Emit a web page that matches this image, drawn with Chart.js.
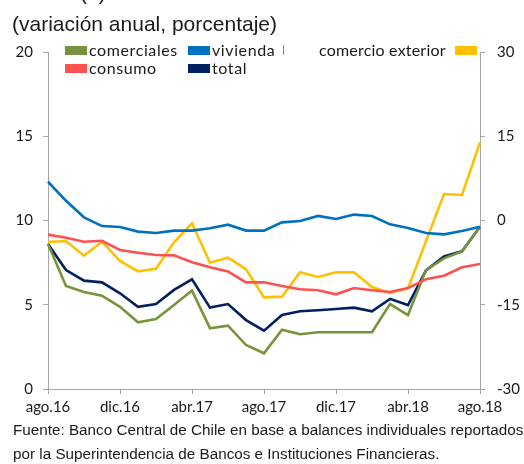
<!DOCTYPE html>
<html>
<head>
<meta charset="utf-8">
<script src="https://cdn.jsdelivr.net/npm/chart.js@4.4.0/dist/chart.umd.min.js"></script>
<style>
  body { margin: 0; background: #fff; }
  #wrap { position: relative; width: 524px; height: 464px; overflow: hidden; }
  #chart { position: absolute; left: 0; top: 0; }
  .txt { position: absolute; white-space: nowrap; color: #1a1a1a; }
  .arial { font-family: "Liberation Sans", Arial, sans-serif; }
  .leg { font-family: Lato, sans-serif; font-size: 16px; line-height: 18px; letter-spacing: 0.6px; }
  .box { position: absolute; width: 22px; height: 9px; }
</style>
</head>
<body>
<div id="wrap">
  <canvas id="chart" width="524" height="464"></canvas>
  <div class="txt arial" style="left:80px; top:-19px; font-size:21px;">(b)</div>
  <div class="txt arial" style="left:12px; top:12px; font-size:21px;">(variación anual, porcentaje)</div>

  <div id="legend"></div>

  <div class="txt arial" style="left:13px; top:421px; font-size:15.25px;">Fuente: Banco Central de Chile en base a balances individuales reportados</div>
  <div class="txt arial" style="left:13px; top:445px; font-size:15.25px;">por la Superintendencia de Bancos e Instituciones Financieras.</div>
</div>
<script>
// Months, ago.16 .. ago.18
const months = ["ago.16","sep.16","oct.16","nov.16","dic.16","ene.17","feb.17","mar.17","abr.17","may.17","jun.17","jul.17",
  "ago.17","sep.17","oct.17","nov.17","dic.17","ene.18","feb.18","mar.18","abr.18","may.18","jun.18","jul.18","ago.18"];

// left axis series (%)
const comerciales = [8.61, 6.11, 5.76, 5.54, 4.88, 3.96, 4.15, 4.99, 5.84, 3.60, 3.76, 2.61, 2.12, 3.52, 3.25, 3.37, 3.37, 3.37, 3.37, 5.04, 4.39, 7.06, 7.75, 8.17, 9.63];
const vivienda = [12.30, 11.17, 10.19, 9.67, 9.61, 9.34, 9.26, 9.40, 9.40, 9.54, 9.75, 9.40, 9.40, 9.89, 9.97, 10.27, 10.09, 10.35, 10.27, 9.77, 9.55, 9.26, 9.18, 9.38, 9.63];
const consumo = [9.16, 8.98, 8.74, 8.80, 8.25, 8.09, 7.95, 7.93, 7.52, 7.22, 6.98, 6.33, 6.33, 6.11, 5.92, 5.86, 5.62, 5.99, 5.86, 5.76, 5.99, 6.51, 6.72, 7.22, 7.42];
const total = [8.61, 7.06, 6.43, 6.33, 5.68, 4.88, 5.04, 5.88, 6.51, 4.83, 5.04, 4.09, 3.46, 4.39, 4.61, 4.67, 4.75, 4.83, 4.61, 5.35, 4.98, 7.04, 7.87, 8.17, 9.63];
// right axis series (%)
const comercioExterior = [-3.83, -3.65, -6.26, -3.77, -7.21, -9.05, -8.58, -3.89, -0.50, -7.51, -6.62, -8.69, -13.68, -13.56, -9.23, -10.06, -9.23, -9.23, -11.84, -12.9, -12.1, -3.7, 4.72, 4.54, 13.92];

// tick values
const leftTicks = [0, 5, 10, 15, 20];
const rightTicks = [-30, -15, 0, 15, 30];

const colors = {
  comerciales: '#77933C',
  vivienda: '#0070C0',
  consumo: '#FF5050',
  total: '#002060',
  comercio: '#FFC000'
};

// Legend (Excel style, two rows)
const legendItems = [
  { text: 'comerciales', color: colors.comerciales, x: 65, y: 46, tx: 89 },
  { text: 'vivienda', color: colors.vivienda, x: 188, y: 46, tx: 212 },
  { text: 'consumo', color: colors.consumo, x: 65, y: 64, tx: 89 },
  { text: 'total', color: colors.total, x: 188, y: 64, tx: 212 }
];
const legend = document.getElementById('legend');
legendItems.forEach(it => {
  const b = document.createElement('div');
  b.className = 'box';
  b.style.left = it.x + 'px';
  b.style.top = it.y + 'px';
  b.style.background = it.color;
  legend.appendChild(b);
  const t = document.createElement('div');
  t.className = 'txt leg';
  t.style.left = it.tx + 'px';
  t.style.top = (it.y - 5) + 'px';
  t.textContent = it.text;
  legend.appendChild(t);
});
// right-hand item: text then box
legend.insertAdjacentHTML('beforeend',
  '<div class="txt leg" style="left:319px; top:41px; letter-spacing:0.2px;">comercio exterior</div>' +
  '<div class="box" style="left:455px; top:46px; background:' + colors.comercio + '"></div>' +
  '<div class="box" style="left:283px; top:45px; width:1px; height:10px; background:' + colors.comerciales + '"></div>');

const axisColor = '#a6a6a6';
const tickFont = { family: 'Lato', size: 15 };

function lineSet(label, data, color, axis) {
  return {
    label: label,
    data: data,
    borderColor: color,
    backgroundColor: color,
    borderWidth: 2.6,
    pointRadius: 0,
    tension: 0,
    yAxisID: axis
  };
}

new Chart(document.getElementById('chart'), {
  type: 'line',
  data: {
    labels: months,
    datasets: [
      lineSet('vivienda', vivienda, colors.vivienda, 'y'),
      lineSet('consumo', consumo, colors.consumo, 'y'),
      lineSet('comercio exterior', comercioExterior, colors.comercio, 'y2'),
      lineSet('comerciales', comerciales, colors.comerciales, 'y'),
      lineSet('total', total, colors.total, 'y')
    ]
  },
  options: {
    responsive: false,
    animation: false,
    layout: { padding: { top: 52, left: 0, right: 0, bottom: 0 } },
    plugins: {
      legend: { display: false },
      tooltip: { enabled: false }
    },
    scales: {
      x: {
        offset: false,
        grid: { drawOnChartArea: false, color: axisColor, tickLength: 5 },
        border: { color: axisColor, width: 1 },
        ticks: {
          autoSkip: false,
          maxRotation: 0,
          padding: 4,
          color: '#1a1a1a',
          font: tickFont,
          callback: function (val, i) { return i % 4 === 0 ? months[i] : null; }
        },
        afterFit: function (s) { s.height = 75; }
      },
      y: {
        position: 'left',
        min: 0, max: 20,
        grid: { drawOnChartArea: false, color: axisColor, tickLength: 5 },
        border: { color: axisColor, width: 1 },
        afterBuildTicks: function (s) { s.ticks = leftTicks.map(v => ({ value: v })); },
        ticks: { padding: 10, color: '#1a1a1a', font: tickFont },
        afterFit: function (s) { s.width = 48; }
      },
      y2: {
        position: 'right',
        min: -30, max: 30,
        grid: { drawOnChartArea: false, color: axisColor, tickLength: 5 },
        border: { color: axisColor, width: 1 },
        afterBuildTicks: function (s) { s.ticks = rightTicks.map(v => ({ value: v })); },
        ticks: { padding: 12, color: '#1a1a1a', font: tickFont },
        afterFit: function (s) { s.width = 44; }
      }
    }
  }
});
</script>
</body>
</html>
